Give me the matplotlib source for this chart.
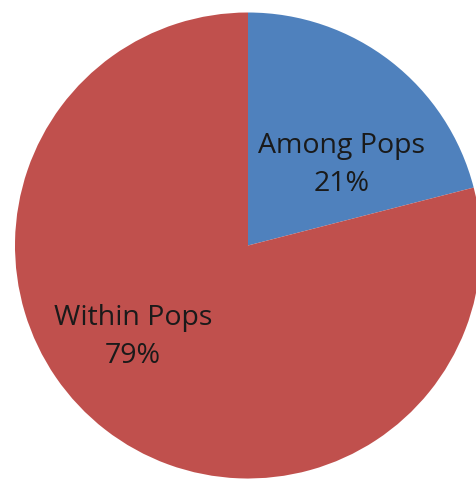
import matplotlib
matplotlib.use('Agg')
import matplotlib.pyplot as plt

# variance components
labels = ['Among Pops', 'Within Pops']
shares = [21, 79]
colors = ['#4F81BD', '#C0504D']

plt.rcParams['font.family'] = ['Open Sans', 'DejaVu Sans']

W, H = 477, 479
fig = plt.figure(figsize=(W / 100, H / 100), dpi=100)
cx, cy, r = 248, 245.5, 233
ax = fig.add_axes([(cx - r) / W, (H - cy - r) / H, 2 * r / W, 2 * r / H])

wedges, _ = ax.pie(shares, colors=colors, startangle=90, counterclock=False,
                   radius=1, wedgeprops=dict(linewidth=0))
for w in wedges:
    w.set_clip_on(False)
ax.set_xlim(-1, 1)
ax.set_ylim(-1, 1)
ax.set_aspect('equal')
ax.axis('off')

# label positions inside each slice
pos = [(0.40, 0.345), (-0.494, -0.393)]
for lab, val, (x, y) in zip(labels, shares, pos):
    ax.text(x, y, f'{lab}\n{val}%', ha='center', va='center', fontsize=20.5,
            color='#1a1a1a', linespacing=1.5)

fig.savefig('out.png', dpi=100)
